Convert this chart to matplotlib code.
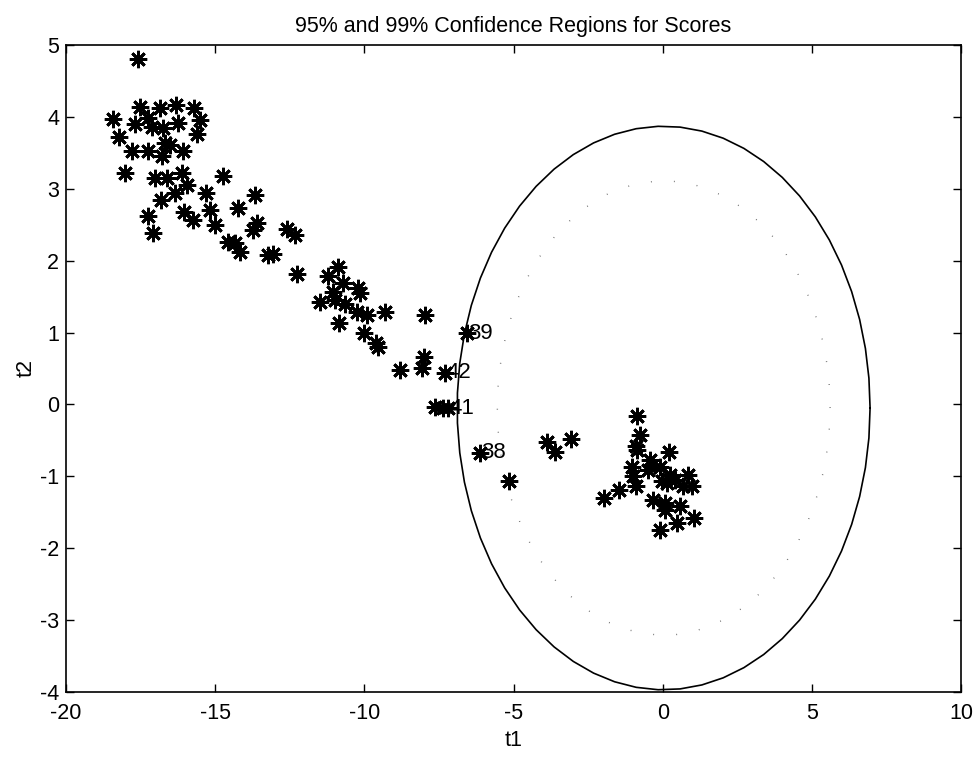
import matplotlib
matplotlib.use('Agg')
import matplotlib.pyplot as plt
import numpy as np

plt.rcParams['font.family'] = ['Liberation Sans', 'DejaVu Sans']
plt.rcParams['axes.unicode_minus'] = False

# scores
t1 = [-17.58, -18.41, -18.21, -17.52, -16.85, -16.31, -15.71, -15.51, -15.62, -17.69,
      -17.24, -17.13, -16.74, -16.24, -16.51, -16.68, -17.80, -17.24, -16.79, -16.07,
      -18.02, -17.02, -16.60, -16.10, -14.75, -15.95, -16.35, -15.31, -13.66, -16.83,
      -14.22, -16.04, -15.17, -17.24, -15.73, -13.61, -13.72, -15.01, -12.60, -12.32,
      -17.07, -14.56, -14.33, -14.17, -13.22, -13.05, -12.27, -10.87, -11.21, -10.70,
      -11.04, -10.20, -10.14, -11.48, -10.98, -10.65, -10.26, -9.92, -9.31, -10.85,
      -10.00, -9.62, -9.55, -8.80, -7.97, -6.57, -8.00, -8.08, -7.29, -7.63,
      -7.35, -7.18, -6.14, -5.14, -3.87, -3.61, -3.08,
      -0.85, -0.76, -0.89, -0.85, 0.22, -0.42, -1.04, -0.51, -0.09, 0.25,
      0.41, 0.86, 0.97, 0.69, 0.14, -0.03, -0.98, -0.89, -1.48, -1.96,
      -0.31, 0.08, 0.08, 0.58, 0.47, -0.09, 1.05]
t2 = [4.81, 3.97, 3.72, 4.14, 4.13, 4.17, 4.12, 3.96, 3.76, 3.90,
      3.98, 3.86, 3.84, 3.91, 3.61, 3.63, 3.53, 3.52, 3.45, 3.53,
      3.22, 3.15, 3.15, 3.22, 3.18, 3.05, 2.94, 2.94, 2.91, 2.84,
      2.73, 2.68, 2.70, 2.62, 2.56, 2.52, 2.43, 2.50, 2.44, 2.36,
      2.38, 2.26, 2.24, 2.12, 2.08, 2.09, 1.82, 1.91, 1.78, 1.69,
      1.57, 1.62, 1.55, 1.43, 1.45, 1.40, 1.29, 1.24, 1.29, 1.13,
      1.00, 0.85, 0.80, 0.48, 1.24, 0.99, 0.66, 0.50, 0.44, -0.04,
      -0.05, -0.05, -0.67, -1.07, -0.52, -0.66, -0.48,
      -0.16, -0.42, -0.58, -0.63, -0.66, -0.77, -0.87, -0.91, -0.87, -0.98,
      -1.05, -0.98, -1.14, -1.14, -1.10, -1.07, -1.00, -1.13, -1.19, -1.30,
      -1.33, -1.37, -1.47, -1.41, -1.65, -1.74, -1.58]

# labelled samples (index into t1/t2)
label_text = ['39', '42', '41', '38']
label_idx = [65, 68, 71, 72]

# confidence ellipses: centre and semi-axes
ell_center = (0.03, -0.05)
ell99 = (6.92, 3.92)
ell95 = (5.58, 3.16)

fig = plt.figure(figsize=(9.79, 7.61), dpi=100)
ax = fig.add_axes([0.0674, 0.0907, 0.9143, 0.8502])

for txt, i in zip(label_text, label_idx):
    ax.text(t1[i] + 0.05, t2[i], txt, fontsize=16, ha='left', va='center', zorder=1)

ax.plot(t1, t2, linestyle='none', marker=(8, 2, 0), markersize=12.5,
        markeredgewidth=2.0, color='black', zorder=3)

th = np.linspace(0, 2 * np.pi, 60)
ax.plot(ell_center[0] + ell99[0] * np.cos(th), ell_center[1] + ell99[1] * np.sin(th),
        color='black', lw=1.2, zorder=2)
ax.plot(ell_center[0] + ell95[0] * np.cos(th), ell_center[1] + ell95[1] * np.sin(th),
        color='0.4', lw=1.0, linestyle=(0, (0.6, 16)), zorder=2)

ax.set_xlim(-20, 10)
ax.set_ylim(-4, 5)
ax.set_xticks(np.arange(-20, 11, 5))
ax.set_yticks(np.arange(-4, 6, 1))
ax.tick_params(direction='in', top=True, right=True, length=6, width=1,
               labelsize=15.5)
ax.tick_params(axis='x', pad=8)
ax.tick_params(axis='y', pad=5)
for s in ax.spines.values():
    s.set_linewidth(1.2)

ax.set_xlabel('t1', fontsize=15.5, labelpad=4)
ax.set_ylabel('t2', fontsize=15.5, labelpad=2)
ax.set_title('95% and 99% Confidence Regions for Scores', fontsize=15.5, pad=9)

fig.savefig('out.png', dpi=100)
